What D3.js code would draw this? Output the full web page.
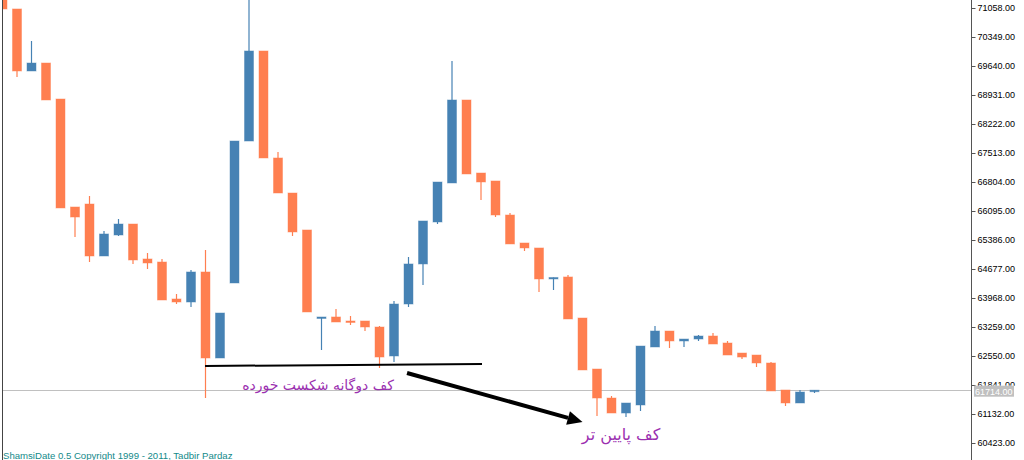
<!DOCTYPE html>
<html><head><meta charset="utf-8">
<script src="https://cdn.jsdelivr.net/npm/d3@7"></script>
<style>
html,body{margin:0;padding:0;background:#fff;overflow:hidden}
svg{display:block}
</style></head>
<body>
<svg id="c" width="1024" height="460"></svg>
<script>
// ---- data ----
const opens  = [71380,71034,69518,69713,68833,66193,66266,64995,65508,65777,64922,64848,63944,63870,64604,62501,64335,67806,70007,67391,66535,65631,63490,63504,63406,63406,63259,62550,63821,64800,65826,66780,68809,67024,66829,65997,65313,65191,64445,64482,63479,62232,61523,61156,61352,62770,63161,62917,62965,63039,62868,62623,62574,62379,61719,61401,61690];
const highs  = [71420,71034,70251,69713,68833,66193,66462,65606,65900,65777,65068,64922,64066,64653,65142,63601,67806,71743,70007,67538,66535,65631,63504,63699,63528,63406,63284,63895,64971,65851,66804,69762,68809,67024,66829,66046,65313,65191,64470,64531,63479,62232,61572,61401,62794,63284,63161,62965,63063,63112,62917,62623,62574,62403,61719,61719,61714];
const lows   = [71030,69371,69518,68809,66169,65460,64848,64995,65484,64800,64677,63919,63821,63748,61523,62501,64335,67806,67391,66535,65484,63626,62697,63381,63308,63161,62257,62403,63748,64286,65777,66780,67000,66364,65948,65289,65117,64115,64164,63455,62208,61083,61156,61058,61205,62770,62746,62770,62917,62843,62574,62477,62281,61695,61327,61401,61646];
const closes = [71034,69518,69713,68809,66169,65948,64995,65533,65777,64897,64824,63919,63870,64604,62501,63601,67806,70007,67391,66535,65582,63626,63504,63381,63381,63259,62525,63821,64800,65851,66804,68809,67000,66804,65997,65289,65191,64433,64470,63455,62208,61523,61156,61401,62794,63161,62917,62965,63039,62843,62574,62525,62379,61695,61401,61670,61714];
const tickValues = [71058,70349,69640,68931,68222,67513,66804,66095,65386,64677,63968,63259,62550,61841,61132,60423];
const lastPrice = 61714;
const trendLine = [{i:13.97,p:62306},{i:33.07,p:62355}];
const arrowPts = [{i:27.9,p:62134},{i:40.0,p:60937}];
const labelDouble = {i:21.76, p:61720, text:"کف دوگانه شکست خورده", fs:14};
const labelLower  = {i:42.66, p:60490, text:"کف پایین تر", fs:16};
const copyright = "ShamsiDate 0.5 Copyright 1999 - 2011, Tadbir Pardaz";

// ---- chart ----
const svg = d3.select("#c");
const W = 1024, H = 460, axisX = 971;
const x = d3.scaleLinear().domain([0, opens.length-1]).range([2.5, 814.5]);
const y = d3.scaleLinear().domain([60423, 71058]).range([443, 8]);
const UP = "#4682b4", DN = "#ff7f50";
const defs = svg.append("defs");

// left border
svg.append("line").attr("x1",2.5).attr("x2",2.5).attr("y1",0).attr("y2",H)
  .attr("stroke","#444").attr("stroke-width",1);

// last price line
svg.append("line").attr("x1",3).attr("x2",axisX).attr("y1",Math.round(y(lastPrice))+0.5).attr("y2",Math.round(y(lastPrice))+0.5)
  .attr("stroke","#c0c0c0").attr("stroke-width",1);

defs.append("clipPath").attr("id","clip").append("rect").attr("x",3).attr("y",0).attr("width",axisX-3).attr("height",H);
const g = svg.append("g").attr("clip-path","url(#clip)");

const data = opens.map((o,i)=>({i,o,h:highs[i],l:lows[i],c:closes[i]}));
const cg = g.selectAll("g.candle").data(data).join("g");
cg.append("line")
  .attr("x1",d=>x(d.i)).attr("x2",d=>x(d.i))
  .attr("y1",d=>y(d.h)).attr("y2",d=>y(d.l))
  .attr("stroke",d=>d.c>=d.o?UP:DN).attr("stroke-width",1.2);
cg.append("rect")
  .attr("x",d=>x(d.i)-4.5).attr("width",9)
  .attr("y",d=>y(Math.max(d.o,d.c)))
  .attr("height",d=>Math.max(1.5, Math.abs(y(d.o)-y(d.c))))
  .attr("fill",d=>d.c>=d.o?UP:DN)
  .attr("stroke",d=>d.c>=d.o?UP:DN).attr("stroke-opacity",0.45).attr("stroke-width",1);

// trend line
g.append("line")
  .attr("x1",x(trendLine[0].i)).attr("y1",y(trendLine[0].p))
  .attr("x2",x(trendLine[1].i)).attr("y2",y(trendLine[1].p))
  .attr("stroke","#000").attr("stroke-width",2);

// arrow
const ax1=x(arrowPts[0].i), ay1=y(arrowPts[0].p), ax2=x(arrowPts[1].i), ay2=y(arrowPts[1].p);
const ang = Math.atan2(ay2-ay1, ax2-ax1);
const hl = 15, hw = 7;
const bx = ax2 - hl*Math.cos(ang), by = ay2 - hl*Math.sin(ang);
g.append("line").attr("x1",ax1).attr("y1",ay1).attr("x2",bx).attr("y2",by)
  .attr("stroke","#000").attr("stroke-width",4);
g.append("polygon").attr("points",[
  [ax2,ay2],
  [bx + hw*Math.sin(ang), by - hw*Math.cos(ang)],
  [bx - hw*Math.sin(ang), by + hw*Math.cos(ang)]
].map(p=>p.join(",")).join(" ")).attr("fill","#000");

// annotation texts
[labelDouble,labelLower].forEach(t=>{
  svg.append("text").attr("x",x(t.i)).attr("y",y(t.p))
    .attr("text-anchor","middle").attr("direction","rtl")
    .attr("font-family","'DejaVu Sans', sans-serif").attr("font-size",t.fs)
    .attr("fill","#9b30b0").text(t.text);
});

// copyright
svg.append("text").attr("x",3).attr("y",459)
  .attr("font-family","'Liberation Sans', Arial, sans-serif").attr("font-size",9.6)
  .attr("fill","#138a8a").text(copyright);

// right axis
svg.append("line").attr("x1",axisX+0.5).attr("x2",axisX+0.5).attr("y1",0).attr("y2",H)
  .attr("stroke","#555").attr("stroke-width",1);
const ly = y(lastPrice);
const axis = d3.axisRight(y).tickValues(tickValues).tickSize(4).tickSizeOuter(0).tickPadding(2)
  .tickFormat(d3.format(".2f"));
const ag = svg.append("g").attr("transform",`translate(${axisX+0.5},0)`).call(axis);
ag.select(".domain").remove();
ag.selectAll(".tick line").attr("stroke","#555");
ag.selectAll(".tick text").attr("font-family","'Liberation Sans', Arial, sans-serif").attr("font-size",9).attr("fill","#000");
// the tick label partly hidden behind the last-price box: clip to its visible top part
ag.selectAll(".tick").filter(d=>Math.abs(y(d)-ly)<8).each(function(d){
  const tickY = y(d);
  defs.append("clipPath").attr("id","tclip").append("rect")
    .attr("x",-2).attr("y",-20).attr("width",60).attr("height",(ly-5)-tickY+20);
  d3.select(this).select("text").attr("clip-path","url(#tclip)");
});

// last price label
svg.append("rect").attr("x",axisX+3).attr("y",ly-4.5).attr("width",40).attr("height",11).attr("fill","#c0c0c0");
svg.append("text").attr("x",axisX+4).attr("y",ly+4.5)
  .attr("font-family","'Liberation Sans', Arial, sans-serif").attr("font-size",9)
  .attr("fill","#fff").text(d3.format(".2f")(lastPrice));
</script>
</body></html>
